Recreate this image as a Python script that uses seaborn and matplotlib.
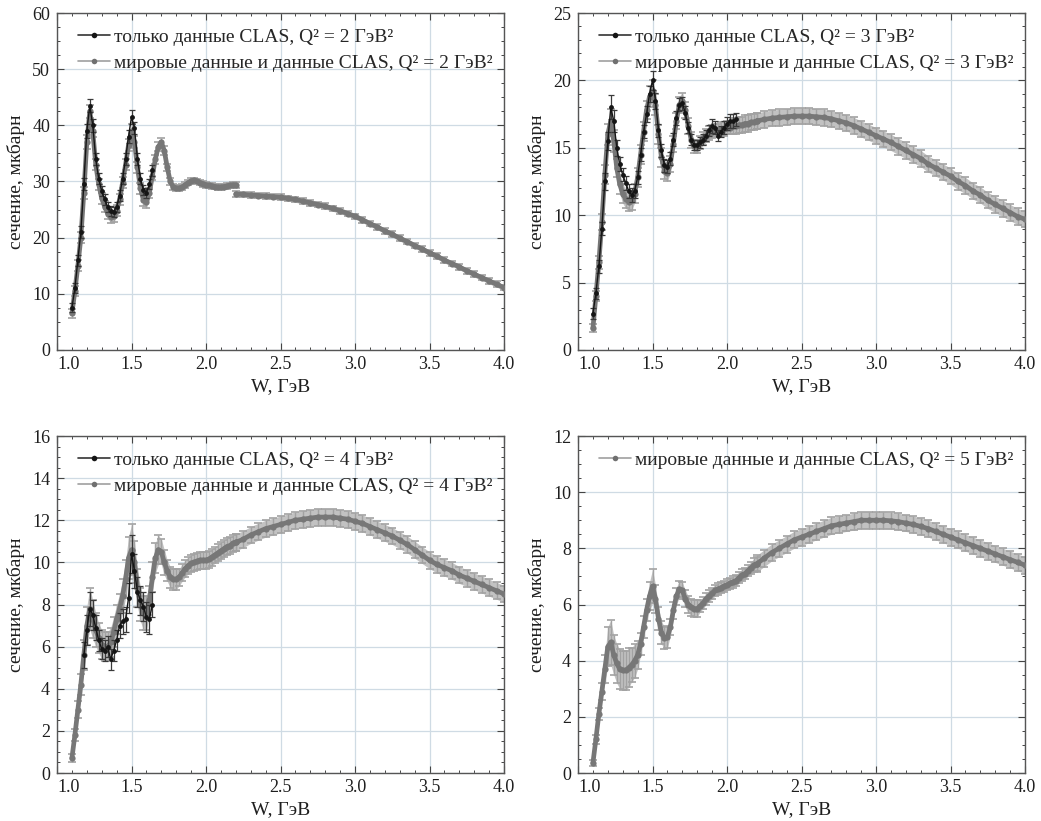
import numpy as np
import seaborn as sns
import matplotlib.pyplot as plt
from matplotlib.lines import Line2D
from matplotlib.ticker import MultipleLocator

sns.set_theme(style='ticks')
plt.rcParams['font.family'] = ['Liberation Serif', 'DejaVu Serif']

# сетка по W, ГэВ
w_low = [1.10, 1.12, 1.14, 1.16, 1.18, 1.20, 1.22, 1.24, 1.26, 1.28,
         1.30, 1.32, 1.34, 1.36, 1.38, 1.40, 1.42, 1.44, 1.46, 1.48,
         1.50, 1.52, 1.54, 1.56, 1.58, 1.60, 1.62, 1.64, 1.66, 1.68,
         1.70, 1.72, 1.74, 1.76, 1.78, 1.80, 1.82, 1.84, 1.86, 1.88,
         1.90, 1.92, 1.94, 1.96, 1.98, 2.00, 2.02, 2.04, 2.06, 2.08,
         2.10, 2.12, 2.14, 2.16, 2.18, 2.20]
w_high = [2.20, 2.25, 2.30, 2.35, 2.40, 2.45, 2.50, 2.55, 2.60, 2.65,
          2.70, 2.75, 2.80, 2.85, 2.90, 2.95, 3.00, 3.05, 3.10, 3.15,
          3.20, 3.25, 3.30, 3.35, 3.40, 3.45, 3.50, 3.55, 3.60, 3.65,
          3.70, 3.75, 3.80, 3.85, 3.90, 3.95, 4.00]

# Q2 = 2
q2_world_low = [6.5, 10.5, 15.0, 20.0, 28.0, 37.0, 42.5, 39.0, 33.0, 29.5,
                27.0, 25.5, 24.3, 23.7, 23.8, 24.8, 26.8, 29.8, 33.0, 36.5,
                39.0, 37.0, 32.5, 28.8, 26.7, 26.3, 28.0, 31.0, 34.0, 36.2,
                37.0, 35.5, 32.5, 30.0, 29.0, 28.8, 28.8, 29.0, 29.4, 29.8,
                30.1, 30.2, 30.0, 29.8, 29.6, 29.4, 29.3, 29.2, 29.1, 29.0,
                29.0, 29.1, 29.2, 29.3, 29.4, 29.4]
q2_world_low_err = [0.8, 0.9, 1.0, 1.0, 1.1, 1.2, 1.2, 1.1, 1.0, 1.0,
                    1.0, 1.0, 1.0, 1.0, 1.0, 1.0, 1.0, 1.0, 1.0, 1.1,
                    1.2, 1.1, 1.0, 1.0, 1.0, 1.0, 0.9, 0.8, 0.8, 0.8,
                    0.8, 0.8, 0.7, 0.6, 0.6, 0.5, 0.5, 0.5, 0.5, 0.5,
                    0.5, 0.5, 0.5, 0.5, 0.5, 0.5, 0.5, 0.5, 0.5, 0.5,
                    0.5, 0.5, 0.5, 0.5, 0.5, 0.5]
q2_world_high = [27.8, 27.7, 27.6, 27.5, 27.4, 27.3, 27.2, 27.0, 26.8, 26.5,
                 26.2, 25.9, 25.6, 25.2, 24.8, 24.3, 23.8, 23.2, 22.5, 21.9,
                 21.2, 20.6, 19.9, 19.3, 18.6, 18.0, 17.3, 16.7, 16.0, 15.4,
                 14.8, 14.1, 13.5, 12.9, 12.3, 11.7, 11.1]
q2_world_high_err = [0.5, 0.5, 0.5, 0.5, 0.5, 0.5, 0.5, 0.5, 0.5, 0.5,
                     0.5, 0.5, 0.5, 0.5, 0.5, 0.5, 0.5, 0.5, 0.5, 0.5,
                     0.5, 0.5, 0.5, 0.5, 0.5, 0.5, 0.5, 0.5, 0.5, 0.5,
                     0.5, 0.5, 0.5, 0.5, 0.5, 0.5, 0.5]
w_clas2 = [1.10, 1.12, 1.14, 1.16, 1.18, 1.20, 1.22, 1.24, 1.26, 1.28,
           1.30, 1.32, 1.34, 1.36, 1.38, 1.40, 1.42, 1.44, 1.46, 1.48,
           1.50, 1.52, 1.54, 1.56, 1.58, 1.60, 1.62, 1.64]
q2_clas = [7.5, 11.0, 16.0, 21.0, 29.5, 39.0, 43.5, 40.0, 34.0, 30.5,
           28.3, 26.8, 25.5, 24.8, 24.6, 25.5, 27.5, 30.5, 34.0, 38.0,
           41.5, 39.5, 34.0, 30.5, 28.5, 28.0, 29.5, 32.0]
q2_clas_err = [0.8, 0.9, 1.0, 1.0, 1.1, 1.2, 1.2, 1.1, 1.0, 1.0,
               0.9, 0.9, 0.9, 0.9, 0.9, 0.9, 0.9, 1.0, 1.0, 1.1,
               1.2, 1.1, 1.0, 1.0, 0.9, 0.9, 0.9, 1.0]

# Q2 = 3
q3_world_low = [1.6, 4.0, 6.5, 9.5, 13.0, 16.0, 17.0, 15.5, 13.5, 12.3,
                11.6, 11.2, 11.0, 11.1, 11.6, 12.8, 14.5, 16.2, 17.8, 18.8,
                19.2, 18.2, 16.0, 14.3, 13.3, 13.1, 13.8, 15.3, 17.0, 18.2,
                18.5, 17.8, 16.6, 15.6, 15.1, 15.1, 15.4, 15.7, 15.9, 16.1,
                16.2, 16.3, 16.3, 16.4, 16.4, 16.5, 16.5, 16.6, 16.6, 16.7,
                16.7, 16.8, 16.8, 16.9, 16.9, 17.0]
q3_world_low_err = [0.3, 0.4, 0.5, 0.6, 0.7, 0.8, 0.9, 0.8, 0.7, 0.7,
                    0.7, 0.7, 0.7, 0.7, 0.7, 0.7, 0.7, 0.7, 0.7, 0.8,
                    0.8, 0.8, 0.7, 0.7, 0.6, 0.6, 0.6, 0.6, 0.6, 0.6,
                    0.6, 0.6, 0.6, 0.6, 0.5, 0.5, 0.5, 0.5, 0.5, 0.5,
                    0.5, 0.5, 0.5, 0.5, 0.5, 0.5, 0.5, 0.6, 0.6, 0.6,
                    0.6, 0.6, 0.6, 0.6, 0.6, 0.6]
q3_world_high = [17.0, 17.1, 17.2, 17.25, 17.3, 17.35, 17.35, 17.35, 17.3, 17.25,
                 17.15, 17.0, 16.85, 16.65, 16.4, 16.15, 15.9, 15.65, 15.4, 15.1,
                 14.8, 14.5, 14.2, 13.8, 13.5, 13.2, 12.9, 12.5, 12.2, 11.8,
                 11.5, 11.1, 10.8, 10.5, 10.2, 9.9, 9.7]
q3_world_high_err = [0.6, 0.6, 0.6, 0.6, 0.6, 0.6, 0.6, 0.6, 0.6, 0.6,
                     0.6, 0.6, 0.6, 0.6, 0.6, 0.6, 0.6, 0.6, 0.6, 0.6,
                     0.6, 0.6, 0.6, 0.6, 0.6, 0.6, 0.6, 0.6, 0.6, 0.6,
                     0.6, 0.6, 0.6, 0.6, 0.6, 0.6, 0.6]
w_clas3 = [1.10, 1.12, 1.14, 1.16, 1.18, 1.20, 1.22, 1.24, 1.26, 1.28,
           1.30, 1.32, 1.34, 1.36, 1.38, 1.40, 1.42, 1.44, 1.46, 1.48,
           1.50, 1.52, 1.54, 1.56, 1.58, 1.60, 1.62, 1.64, 1.66, 1.68,
           1.70, 1.72, 1.74, 1.76, 1.78, 1.80, 1.82, 1.84, 1.86, 1.88,
           1.90, 1.92, 1.94, 1.96, 1.98, 2.00, 2.02, 2.04, 2.06]
q3_clas = [2.7, 4.2, 6.2, 9.0, 12.5, 15.5, 18.0, 17.0, 15.0, 13.8,
           13.0, 12.4, 11.8, 11.5, 11.8, 12.8, 14.5, 16.2, 17.5, 19.0,
           20.0, 18.5, 16.3, 14.8, 13.7, 13.6, 14.2, 15.6, 17.2, 18.2,
           18.3, 17.6, 16.5, 15.6, 15.2, 15.2, 15.4, 15.6, 15.9, 16.3,
           16.6, 16.5, 15.9, 16.2, 16.5, 16.8, 17.0, 17.0, 17.1]
q3_clas_err = [0.4, 0.4, 0.5, 0.5, 0.6, 0.7, 0.9, 0.8, 0.6, 0.5,
               0.5, 0.5, 0.5, 0.5, 0.5, 0.5, 0.5, 0.5, 0.6, 0.6,
               0.7, 0.6, 0.5, 0.5, 0.5, 0.5, 0.5, 0.5, 0.5, 0.5,
               0.5, 0.5, 0.4, 0.4, 0.4, 0.4, 0.4, 0.4, 0.4, 0.4,
               0.5, 0.5, 0.4, 0.4, 0.5, 0.5, 0.5, 0.5, 0.5]

# Q2 = 4
q4_world_low = [0.7, 1.8, 3.0, 4.2, 5.6, 7.0, 7.8, 7.3, 6.8, 6.4,
                6.1, 6.0, 6.0, 6.2, 6.7, 7.3, 7.8, 8.4, 9.2, 10.2,
                10.6, 10.0, 8.8, 8.0, 7.6, 7.6, 8.2, 9.3, 10.2, 10.6,
                10.5, 10.0, 9.6, 9.3, 9.2, 9.2, 9.3, 9.5, 9.7, 9.85,
                9.95, 10.0, 10.05, 10.1, 10.1, 10.1, 10.15, 10.25, 10.35, 10.45,
                10.55, 10.65, 10.75, 10.8, 10.9, 10.95]
q4_world_low_err = [0.2, 0.3, 0.4, 0.5, 0.7, 0.9, 1.0, 0.9, 0.8, 0.7,
                    0.7, 0.7, 0.7, 0.7, 0.7, 0.7, 0.7, 0.8, 0.9, 1.0,
                    1.2, 1.0, 0.9, 0.8, 0.8, 0.8, 0.7, 0.7, 0.7, 0.7,
                    0.6, 0.6, 0.5, 0.5, 0.5, 0.5, 0.4, 0.4, 0.4, 0.4,
                    0.4, 0.4, 0.4, 0.4, 0.4, 0.4, 0.4, 0.4, 0.4, 0.4,
                    0.4, 0.4, 0.4, 0.4, 0.4, 0.4]
q4_world_high = [10.95, 11.1, 11.3, 11.45, 11.6, 11.7, 11.8, 11.9, 12.0, 12.05,
                 12.1, 12.15, 12.15, 12.15, 12.1, 12.05, 11.95, 11.85, 11.7, 11.55,
                 11.4, 11.25, 11.05, 10.85, 10.6, 10.35, 10.1, 9.9, 9.75, 9.6,
                 9.4, 9.25, 9.1, 8.95, 8.8, 8.65, 8.5]
q4_world_high_err = [0.4, 0.4, 0.4, 0.4, 0.4, 0.4, 0.4, 0.4, 0.4, 0.4,
                     0.4, 0.4, 0.4, 0.4, 0.4, 0.4, 0.4, 0.4, 0.4, 0.4,
                     0.4, 0.4, 0.4, 0.4, 0.4, 0.4, 0.4, 0.4, 0.4, 0.4,
                     0.4, 0.4, 0.4, 0.4, 0.4, 0.4, 0.4]
w_clas4 = [1.18, 1.20, 1.22, 1.24, 1.26, 1.28, 1.30, 1.32, 1.34, 1.36,
           1.38, 1.40, 1.42, 1.44, 1.46, 1.48, 1.50, 1.52, 1.54, 1.56,
           1.58, 1.60, 1.62, 1.64]
q4_clas = [5.6, 6.8, 7.8, 7.5, 6.9, 6.3, 5.9, 5.8, 6.0, 5.4,
           5.8, 6.3, 7.0, 7.2, 7.3, 8.3, 10.4, 9.6, 8.6, 8.2,
           7.9, 7.4, 7.3, 8.0]
q4_clas_err = [0.6, 0.7, 0.8, 0.7, 0.6, 0.5, 0.5, 0.5, 0.5, 0.5,
               0.5, 0.5, 0.6, 0.6, 0.6, 0.7, 0.9, 0.8, 0.7, 0.7,
               0.7, 0.7, 0.7, 0.6]

# Q2 = 5
q5_world_low = [0.35, 1.2, 2.1, 2.9, 3.7, 4.5, 4.65, 4.2, 3.9, 3.7,
                3.65, 3.65, 3.75, 3.85, 4.0, 4.2, 4.6, 5.2, 5.8, 6.3,
                6.65, 6.2, 5.5, 5.0, 4.8, 4.85, 5.2, 5.8, 6.3, 6.55,
                6.5, 6.2, 6.0, 5.9, 5.85, 5.85, 5.95, 6.05, 6.2, 6.3,
                6.4, 6.5, 6.55, 6.6, 6.65, 6.7, 6.75, 6.8, 6.85, 6.95,
                7.05, 7.1, 7.2, 7.3, 7.4, 7.45]
q5_world_low_err = [0.1, 0.15, 0.2, 0.3, 0.5, 0.7, 0.8, 0.7, 0.7, 0.7,
                    0.7, 0.7, 0.7, 0.6, 0.6, 0.5, 0.4, 0.4, 0.4, 0.5,
                    0.6, 0.5, 0.4, 0.4, 0.4, 0.4, 0.3, 0.3, 0.3, 0.3,
                    0.3, 0.3, 0.3, 0.3, 0.3, 0.3, 0.2, 0.2, 0.2, 0.2,
                    0.2, 0.2, 0.2, 0.2, 0.2, 0.2, 0.2, 0.2, 0.2, 0.2,
                    0.2, 0.2, 0.2, 0.2, 0.25, 0.25]
q5_world_high = [7.45, 7.65, 7.85, 8.0, 8.15, 8.3, 8.4, 8.5, 8.6, 8.7,
                 8.8, 8.85, 8.9, 8.95, 9.0, 9.0, 9.0, 9.0, 8.98, 8.95,
                 8.9, 8.85, 8.78, 8.7, 8.6, 8.5, 8.4, 8.3, 8.2, 8.1,
                 8.0, 7.9, 7.8, 7.7, 7.6, 7.5, 7.4]
q5_world_high_err = [0.3, 0.3, 0.3, 0.3, 0.3, 0.3, 0.3, 0.3, 0.3, 0.3,
                     0.3, 0.3, 0.3, 0.3, 0.3, 0.3, 0.3, 0.3, 0.3, 0.3,
                     0.3, 0.3, 0.3, 0.3, 0.3, 0.3, 0.3, 0.3, 0.3, 0.3,
                     0.3, 0.3, 0.3, 0.3, 0.3, 0.3, 0.3]

panels = [
    dict(pos=[57, 13], q='2', ymax=60, major=10, minor=2.5,
         world=[(q2_world_low, q2_world_low_err), (q2_world_high, q2_world_high_err)],
         clas=(w_clas2, q2_clas, q2_clas_err)),
    dict(pos=[578, 13], q='3', ymax=25, major=5, minor=1,
         world=[(q3_world_low, q3_world_low_err), (q3_world_high, q3_world_high_err)],
         clas=(w_clas3, q3_clas, q3_clas_err)),
    dict(pos=[57, 436], q='4', ymax=16, major=2, minor=0.5,
         world=[(q4_world_low, q4_world_low_err), (q4_world_high, q4_world_high_err)],
         clas=(w_clas4, q4_clas, q4_clas_err)),
    dict(pos=[578, 436], q='5', ymax=12, major=2, minor=0.5,
         world=[(q5_world_low, q5_world_low_err), (q5_world_high, q5_world_high_err)],
         clas=None),
]

W, H = 1041, 821
fig = plt.figure(figsize=(W / 100, H / 100), dpi=100)

grey = '#777777'
grey_err = '#a2a2a2'
black = '#151515'
txt = '#1e1e1e'

for p in panels:
    x0, y0 = p['pos']
    ax = fig.add_axes([x0 / W, 1 - (y0 + 337) / H, 447 / W, 337 / H])
    ax.set_axisbelow(True)

    for k, (vals, errs) in enumerate(p['world']):
        ws = w_low if k == 0 else w_high
        v = np.array(vals)
        e = np.array(errs)
        ax.fill_between(ws, v - e, v + e, color='#c2c2c2', lw=0, zorder=1)
        ax.errorbar(ws, v, yerr=e, fmt='none', ecolor=grey_err,
                    elinewidth=1, capsize=3, capthick=1.2, zorder=2)
        sns.lineplot(x=ws, y=v, ax=ax, color=grey, lw=3.4, marker='o',
                     markersize=4.5, markeredgewidth=0, sort=False,
                     estimator=None, zorder=3, legend=False)

    handles, labels = [], []
    if p['clas'] is not None:
        wc, vc, ec = p['clas']
        ax.errorbar(wc, vc, yerr=ec, fmt='none', ecolor='#3a3a3a',
                    elinewidth=0.9, capsize=2, capthick=0.9, zorder=4)
        sns.lineplot(x=wc, y=vc, ax=ax, color=black, lw=1.0, marker='o',
                     markersize=3.5, markeredgewidth=0, sort=False,
                     estimator=None, zorder=5, legend=False)
        handles.append(Line2D([], [], color='#333333', lw=1.2, marker='o',
                              markersize=4, markerfacecolor=black,
                              markeredgewidth=0))
        labels.append('только данные CLAS, Q² = %s ГэВ²' % p['q'])
    handles.append(Line2D([], [], color='#a0a0a0', lw=1.2, marker='o',
                          markersize=4, markerfacecolor='#707070',
                          markeredgewidth=0))
    labels.append('мировые данные и данные CLAS, Q² = %s ГэВ²' % p['q'])

    ax.set_xlim(1.0, 4.0)
    ax.set_ylim(0, p['ymax'])
    ax.xaxis.set_major_locator(MultipleLocator(0.5))
    ax.xaxis.set_minor_locator(MultipleLocator(0.1))
    ax.yaxis.set_major_locator(MultipleLocator(p['major']))
    ax.yaxis.set_minor_locator(MultipleLocator(p['minor']))
    ax.xaxis.set_major_formatter(plt.FuncFormatter(lambda x, _: '%.1f' % x))
    ax.grid(True, which='major', color='#cfdbe4', lw=0.9)
    ax.tick_params(which='both', direction='in', top=True, right=True,
                   colors='#444444', labelcolor=txt, labelsize=13)
    ax.tick_params(which='major', length=5, width=0.8)
    ax.tick_params(which='minor', length=2.5, width=0.7)
    ax.tick_params(axis='y', pad=5)
    ax.tick_params(axis='x', pad=4)
    for s in ax.spines.values():
        s.set_color('#555555')
        s.set_linewidth(1.0)

    ax.set_xlabel('W, ГэВ', fontsize=14, color=txt, labelpad=4)
    ax.set_ylabel('сечение, мкбарн', fontsize=14, color=txt, labelpad=5)

    ax.legend(handles, labels, loc='upper left', frameon=False, fontsize=14,
              handlelength=1.65, handletextpad=0.2, labelspacing=0.45,
              borderpad=0, borderaxespad=0,
              bbox_to_anchor=((78 - 57) / 447, 1 - 15 / 337))

# подпись "1.0" сдвинута вправо, как в оригинале
fig.canvas.draw()
for ax in fig.axes:
    for lab in ax.get_xticklabels():
        if lab.get_text() == '1.0':
            lab.set_horizontalalignment('left')

fig.savefig('out.png', dpi=100, facecolor='white')
